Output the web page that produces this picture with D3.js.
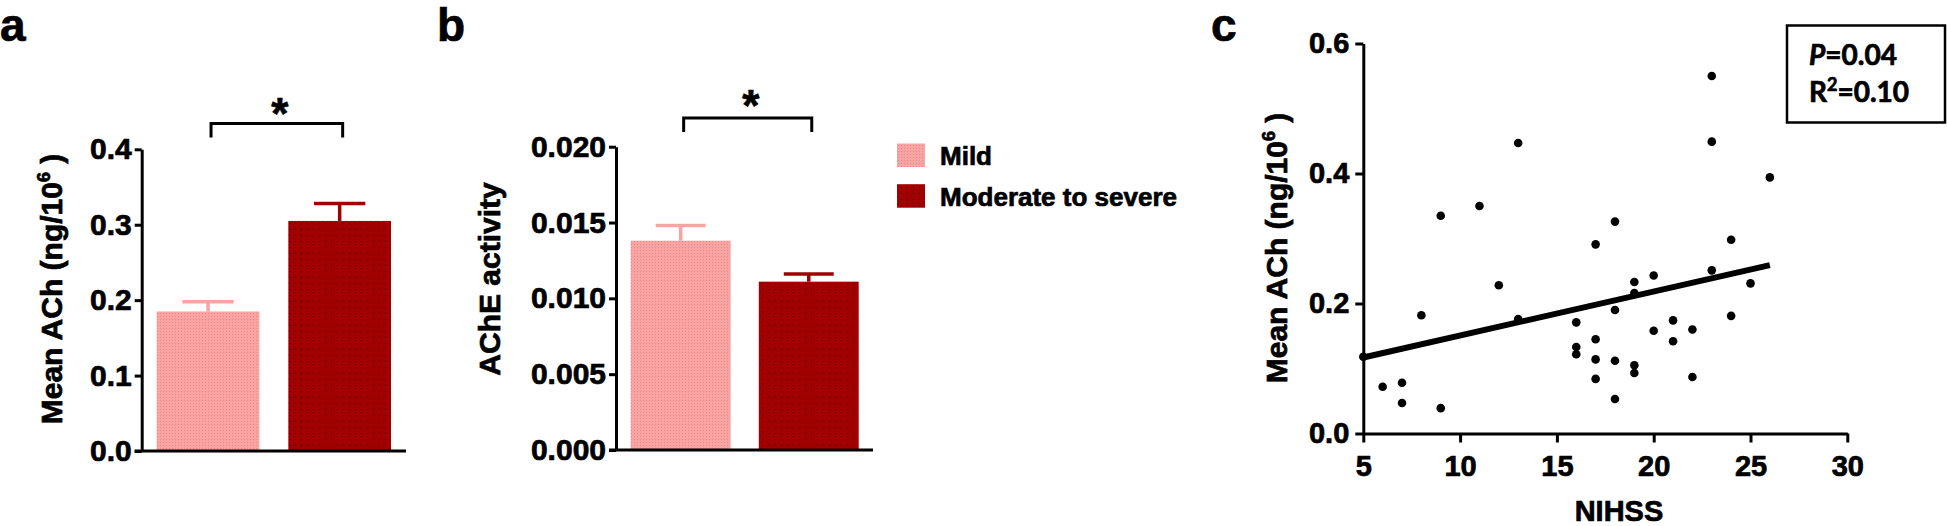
<!DOCTYPE html>
<html>
<head>
<meta charset="utf-8">
<script src="https://cdn.jsdelivr.net/npm/d3@7"></script>
<style>
  body { margin: 0; background: #fff; }
  text { font-family: "Liberation Sans", Arial, sans-serif; font-weight: bold; fill: #000;
         stroke: #000; stroke-width: 0.7px; }
</style>
</head>
<body>
<svg id="fig" width="1947" height="526"></svg>
<script>
// ---- data ----
var groups = ["Mild", "Moderate to severe"];
var groupColors = ["#f9a3a3", "#a00000"];

// panel a: mean ACh, mean and SEM
var achMean = [0.185, 0.305];
var achSem = [0.013, 0.023];
var achTicks = [0, 0.1, 0.2, 0.3, 0.4];

// panel b: AChE activity
var acheMean = [0.0138, 0.0111];
var acheSem = [0.0010, 0.0005];
var acheTicks = [0, 0.005, 0.010, 0.015, 0.020];

// panel c: NIHSS vs mean ACh
var nihss = [5, 6, 7, 7, 8, 9, 9, 11, 12, 13, 13, 16, 16, 16, 17, 17, 17, 17,
  18, 18, 18, 18, 19, 19, 19, 19, 20, 20, 21, 21, 22, 22, 23, 23, 23, 24, 24, 25, 26];
var achPoints = [0.118, 0.072, 0.078, 0.047, 0.182, 0.039, 0.335, 0.350, 0.228, 0.447, 0.176,
  0.171, 0.133, 0.122, 0.291, 0.145, 0.114, 0.084, 0.326, 0.190, 0.112, 0.053,
  0.233, 0.216, 0.105, 0.093, 0.243, 0.158, 0.174, 0.142, 0.160, 0.087,
  0.550, 0.449, 0.251, 0.298, 0.181, 0.231, 0.394];
var fitX = [5, 26];
var fitY = [0.117, 0.259];
var nihssTicks = [5, 10, 15, 20, 25, 30];
var scatterTicks = [0, 0.2, 0.4, 0.6];

var svg = d3.select("#fig");

// dotted fills like the original bars
var defs = svg.append("defs");
var dotColors = ["#e68888", "#3a0000"];
groups.forEach(function(g, i) {
  var p = defs.append("pattern").attr("id", "pat" + i)
    .attr("patternUnits", "userSpaceOnUse")
    .attr("width", i ? 6 : 3).attr("height", i ? 6 : 3);
  p.append("rect").attr("width", 6).attr("height", 6).attr("fill", groupColors[i]);
  p.append("rect").attr("x", 1).attr("y", 1).attr("width", 1).attr("height", 1)
    .attr("fill", dotColors[i]);
});

function styleAxis(ax, size) {
  ax.selectAll("path, line").attr("stroke", "#000").attr("stroke-width", 3);
  ax.selectAll("text").style("font-size", size + "px")
    .style("font-family", '"Liberation Sans", Arial, sans-serif')
    .style("font-weight", "bold")
    .style("fill", "#000").style("stroke", "#000").style("stroke-width", "0.7px");
}

function barPanel(cfg) {
  var g = svg.append("g");
  var y = d3.scaleLinear().domain([0, cfg.max]).range([cfg.y0, cfg.y1]);
  var x = d3.scaleBand().domain(groups).range(cfg.xr).paddingInner(0.22);
  var bw = x.bandwidth();

  g.selectAll(".bar").data(groups).join("rect")
    .attr("class", "bar")
    .attr("x", function(d) { return x(d); })
    .attr("width", bw)
    .attr("y", function(d, i) { return y(cfg.mean[i]); })
    .attr("height", function(d, i) { return y(0) - y(cfg.mean[i]); })
    .attr("fill", function(d, i) { return "url(#pat" + i + ")"; });

  // error bars (upper only)
  groups.forEach(function(d, i) {
    var cx = x(d) + bw / 2, top = y(cfg.mean[i] + cfg.sem[i]);
    g.append("line").attr("x1", cx).attr("x2", cx)
      .attr("y1", y(cfg.mean[i])).attr("y2", top)
      .attr("stroke", groupColors[i]).attr("stroke-width", 3.5);
    g.append("line").attr("x1", cx - bw / 4).attr("x2", cx + bw / 4)
      .attr("y1", top).attr("y2", top)
      .attr("stroke", groupColors[i]).attr("stroke-width", 3.5);
  });

  var ax = g.append("g").attr("transform", "translate(" + cfg.ax + ",0)")
    .call(d3.axisLeft(y).tickValues(cfg.ticks).tickFormat(d3.format(cfg.fmt))
      .tickSize(7).tickSizeOuter(0).tickPadding(3));
  styleAxis(ax, 30);

  g.append("line").attr("x1", cfg.ax - 7).attr("x2", cfg.xEnd)
    .attr("y1", y(0)).attr("y2", y(0))
    .attr("stroke", "#000").attr("stroke-width", 3);

  // significance bracket
  var bx1 = x(groups[0]) + bw / 2 + 3, bx2 = x(groups[1]) + bw / 2 + 3;
  g.append("path")
    .attr("d", "M" + bx1 + "," + (cfg.by + 14) + "V" + cfg.by + "H" + bx2 + "V" + (cfg.by + 14))
    .attr("fill", "none").attr("stroke", "#000").attr("stroke-width", 3);
  g.append("text").attr("x", (bx1 + bx2) / 2 + 3).attr("y", cfg.ay)
    .attr("text-anchor", "middle").style("font-size", "44px").text("*");

  // y label
  var lab = g.append("text")
    .attr("transform", "translate(" + cfg.lx + "," + cfg.ly + ") rotate(-90)")
    .attr("text-anchor", "middle").style("font-size", "30px");
  cfg.label(lab);

  // panel letter
  svg.append("text").attr("x", cfg.px).attr("y", 41)
    .style("font-size", "46px").text(cfg.letter);
}

function achLabel(t) {
  t.append("tspan").text("Mean ACh (ng/10");
  t.append("tspan").attr("dy", -12).style("font-size", "18px").text("6");
  t.append("tspan").attr("dy", 12).text(" )");
}

barPanel({
  letter: "a", px: 0,
  max: 0.4, y0: 451, y1: 149.3, xr: [156.7, 391], ax: 141.7, xEnd: 406,
  ticks: achTicks, fmt: ".1f", mean: achMean, sem: achSem,
  by: 123.5, ay: 129, lx: 62, ly: 289, label: achLabel
});

barPanel({
  letter: "b", px: 437,
  max: 0.02, y0: 450, y1: 146.7, xr: [630.7, 858.7], ax: 616, xEnd: 873,
  ticks: acheTicks, fmt: ".3f", mean: acheMean, sem: acheSem,
  by: 118, ay: 121, lx: 500, ly: 279, label: function(t) { t.text("AChE activity"); }
});

// legend
var leg = svg.append("g");
groups.forEach(function(d, i) {
  leg.append("rect").attr("x", 897).attr("y", 143.5 + i * 40.7)
    .attr("width", 28).attr("height", 23.5).attr("fill", "url(#pat" + i + ")");
  leg.append("text").attr("x", 940).attr("y", 165 + i * 41)
    .style("font-size", "26px").text(d);
});

// ---- panel c: scatter ----
var xs = d3.scaleLinear().domain([5, 30]).range([1363.3, 1847.3]);
var ys = d3.scaleLinear().domain([0, 0.6]).range([433.5, 43.5]);
var gc = svg.append("g");

var axY = gc.append("g").attr("transform", "translate(1363.3,0)")
  .call(d3.axisLeft(ys).tickValues(scatterTicks).tickFormat(d3.format(".1f"))
    .tickSize(8).tickSizeOuter(0).tickPadding(6));
styleAxis(axY, 29);

var axX = gc.append("g").attr("transform", "translate(0,433.5)")
  .call(d3.axisBottom(xs).tickValues(nihssTicks).tickFormat(d3.format("d"))
    .tickSize(9).tickSizeOuter(0).tickPadding(13));
styleAxis(axX, 29);

gc.selectAll(".dot").data(nihss).join("circle")
  .attr("class", "dot")
  .attr("cx", function(d) { return xs(d); })
  .attr("cy", function(d, i) { return ys(achPoints[i]); })
  .attr("r", 4.3).attr("fill", "#000");

gc.append("line")
  .attr("x1", xs(fitX[0])).attr("y1", ys(fitY[0]))
  .attr("x2", xs(fitX[1])).attr("y2", ys(fitY[1]))
  .attr("stroke", "#000").attr("stroke-width", 6);

var cl = gc.append("text")
  .attr("transform", "translate(1287,248) rotate(-90)")
  .attr("text-anchor", "middle").style("font-size", "30px");
achLabel(cl);

gc.append("text").attr("x", 1619).attr("y", 521)
  .attr("text-anchor", "middle").style("font-size", "29px").text("NIHSS");

svg.append("text").attr("x", 1211).attr("y", 41)
  .style("font-size", "46px").text("c");

// stats box
gc.append("rect").attr("x", 1787).attr("y", 25.5).attr("width", 158).attr("height", 97)
  .attr("fill", "none").attr("stroke", "#000").attr("stroke-width", 2.5);
var st1 = gc.append("text").attr("x", 1809).attr("y", 65)
  .style("font-family", "Lato, 'Open Sans', sans-serif").style("font-size", "28px");
st1.append("tspan").style("font-style", "italic").text("P");
st1.append("tspan").text("=0.04");
var st2 = gc.append("text").attr("x", 1809).attr("y", 101.5)
  .style("font-family", "Lato, 'Open Sans', sans-serif").style("font-size", "28px");
st2.append("tspan").text("R");
st2.append("tspan").attr("dy", -11).style("font-size", "18px").text("2");
st2.append("tspan").attr("dy", 11).text("=0.10");
</script>
</body>
</html>
